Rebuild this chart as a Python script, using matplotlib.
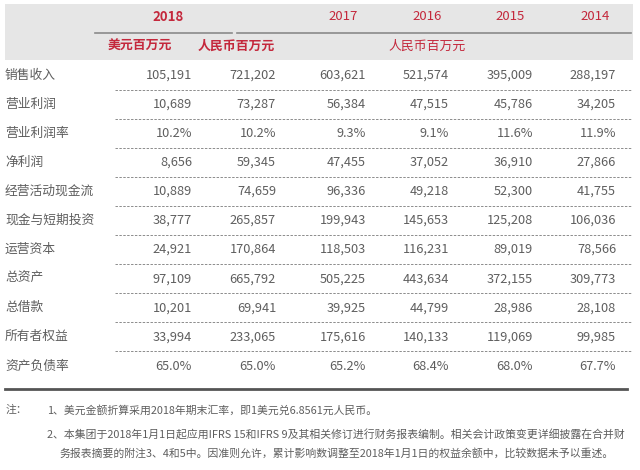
import matplotlib.pyplot as plt
from matplotlib.patches import Rectangle

plt.rcParams["font.family"] = ["Noto Sans CJK SC", "DejaVu Sans"]

# table data
row_labels = ["销售收入", "营业利润", "营业利润率", "净利润", "经营活动现金流",
              "现金与短期投资", "运营资本", "总资产", "总借款", "所有者权益", "资产负债率"]
years = ["2018", "2017", "2016", "2015", "2014"]
usd_2018 = ["105,191", "10,689", "10.2%", "8,656", "10,889", "38,777",
            "24,921", "97,109", "10,201", "33,994", "65.0%"]
rmb_2018 = ["721,202", "73,287", "10.2%", "59,345", "74,659", "265,857",
            "170,864", "665,792", "69,941", "233,065", "65.0%"]
rmb_2017 = ["603,621", "56,384", "9.3%", "47,455", "96,336", "199,943",
            "118,503", "505,225", "39,925", "175,616", "65.2%"]
rmb_2016 = ["521,574", "47,515", "9.1%", "37,052", "49,218", "145,653",
            "116,231", "443,634", "44,799", "140,133", "68.4%"]
rmb_2015 = ["395,009", "45,786", "11.6%", "36,910", "52,300", "125,208",
            "89,019", "372,155", "28,986", "119,069", "68.0%"]
rmb_2014 = ["288,197", "34,205", "11.9%", "27,866", "41,755", "106,036",
            "78,566", "309,773", "28,108", "99,985", "67.7%"]
note_head = "注："
notes = [
    "1、美元金额折算采用2018年期末汇率，即1美元兑6.8561元人民币。",
    "2、本集团于2018年1月1日起应用IFRS 15和IFRS 9及其相关修订进行财务报表编制。相关会计政策变更详细披露在合并财",
    "务报表摘要的附注3、4和5中。因准则允许，累计影响数调整至2018年1月1日的权益余额中，比较数据未予以重述。",
]

RED = "#c4283c"
GRAY = "#5e5e5e"
FS = 9.2

fig = plt.figure(figsize=(6.4, 4.7), dpi=100)
ax = fig.add_axes([0, 0, 1, 1])
ax.set_xlim(0, 640)
ax.set_ylim(470, 0)
ax.axis("off")

# header band
ax.add_patch(Rectangle((5, 4), 628, 56, color="#e6e6e6", lw=0))
year_x = [168, 343, 427, 510, 595]
for x, y in zip(year_x, years):
    ax.text(x, 17, y, color=RED, fontsize=9.5, ha="center", va="center",
            fontweight="bold" if y == "2018" else "normal")
ax.plot([95, 232], [33, 33], color="#8a8a8a", lw=1.2)
ax.plot([237, 631], [33, 33], color="#8a8a8a", lw=1.2)
ax.text(140, 46, "美元百万元", color=RED, fontsize=9.3, ha="center", va="center", fontweight="bold")
ax.text(236, 46, "人民币百万元", color=RED, fontsize=9.3, ha="center", va="center", fontweight="bold")
ax.text(427, 46, "人民币百万元", color=RED, fontsize=9.3, ha="center", va="center")

# body
cols = [usd_2018, rmb_2018, rmb_2017, rmb_2016, rmb_2015, rmb_2014]
col_right = [192, 276, 366, 449, 533, 616]
row_y0, row_h = 75, 29.1
for i, lab in enumerate(row_labels):
    y = row_y0 + i * row_h
    ax.text(5, y, lab, color=GRAY, fontsize=FS, ha="left", va="center")
    for c, xr in zip(cols, col_right):
        ax.text(xr, y, c[i], color=GRAY, fontsize=FS, ha="right", va="center")
    if i < len(row_labels) - 1:
        ax.plot([115, 632], [y + row_h / 2, y + row_h / 2], color="#8c8c8c",
                lw=0.7, ls=(0, (2.5, 1.5)))
ax.plot([5, 627], [389, 389], color="#555555", lw=2)

# notes
ax.text(6, 410, note_head, color=GRAY, fontsize=7.8, ha="left", va="center")
ax.text(47, 410, notes[0], color=GRAY, fontsize=7.8, ha="left", va="center")
ax.text(47, 435, notes[1], color=GRAY, fontsize=7.8, ha="left", va="center")
ax.text(60, 453, notes[2], color=GRAY, fontsize=7.8, ha="left", va="center")

fig.savefig("out.png", dpi=100, facecolor="white")
